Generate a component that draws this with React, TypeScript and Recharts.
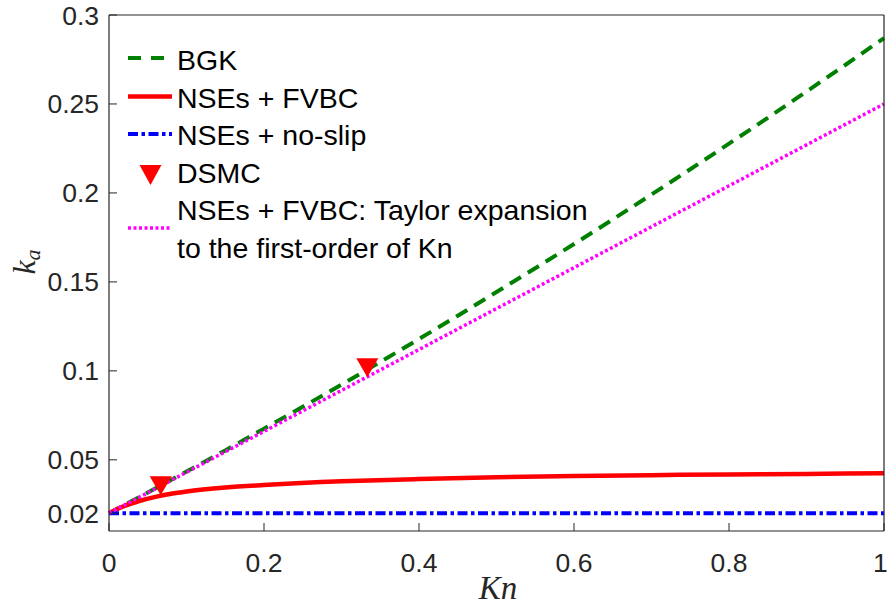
import React from "react";
import {
  ComposedChart,
  Line,
  Scatter,
  XAxis,
  YAxis,
  Legend,
} from "recharts";

// Kn grid and k_a values
const knBgk = [0, 0.05, 0.1, 0.15, 0.2, 0.25, 0.3, 0.35, 0.4, 0.45, 0.5, 0.55, 0.6, 0.65, 0.7, 0.75, 0.8, 0.85, 0.9, 0.95, 1];
const kaBgk = [0.02, 0.0316, 0.0434, 0.0553, 0.0675, 0.0798, 0.0923, 0.105, 0.1179, 0.131, 0.1443, 0.1577, 0.1713, 0.1851, 0.1991, 0.2133, 0.2277, 0.2422, 0.257, 0.2719, 0.287];

const knFvbc = [0, 0.01, 0.02, 0.04, 0.06, 0.08, 0.1, 0.15, 0.2, 0.3, 0.4, 0.5, 0.6, 0.7, 0.8, 0.9, 1];
const kaFvbc = [0.02, 0.0222, 0.0241, 0.027, 0.0292, 0.0309, 0.0322, 0.0344, 0.0358, 0.0379, 0.0392, 0.0402, 0.0409, 0.0414, 0.0418, 0.0421, 0.0424];

const knNoSlip = [0, 0.5, 1];
const kaNoSlip = [0.02, 0.02, 0.02];

const knDsmc = [0.0667, 0.3333];
const kaDsmc = [0.0354, 0.1017];

const knTaylor = [0, 0.1, 0.2, 0.3, 0.4, 0.5, 0.6, 0.7, 0.8, 0.9, 1];
const kaTaylor = [0.02, 0.043, 0.066, 0.089, 0.112, 0.135, 0.158, 0.181, 0.204, 0.227, 0.25];

const xTicks = [0, 0.2, 0.4, 0.6, 0.8, 1];
const yTicks = [0.02, 0.05, 0.1, 0.15, 0.2, 0.25, 0.3];

const toRows = (kn: number[], ka: number[]) => kn.map((x, i) => ({ kn: x, v: ka[i] }));

const bgkData = toRows(knBgk, kaBgk);
const fvbcData = toRows(knFvbc, kaFvbc);
const noSlipData = toRows(knNoSlip, kaNoSlip);
const dsmcData = toRows(knDsmc, kaDsmc);
const taylorData = toRows(knTaylor, kaTaylor);

const axisColor = "#262626";
const tickFont = { fill: axisColor, fontSize: 26.5, fontFamily: "Liberation Sans, Arial, sans-serif" };

const GREEN = "#008000";
const RED = "#ff0000";
const BLUE = "#0000ff";
const MAGENTA = "#ff00ff";

const TRI_W = 22;
const TRI_H = 19;

function TriangleDown(props: any) {
  const { cx, cy } = props;
  if (cx == null || cy == null) return null;
  const pts = `${cx - TRI_W / 2},${cy - TRI_H / 2} ${cx + TRI_W / 2},${cy - TRI_H / 2} ${cx},${cy + TRI_H / 2}`;
  return <polygon points={pts} fill={RED} />;
}

function LegendBox() {
  const font = { fontFamily: "Liberation Sans, Arial, sans-serif", fontSize: 28.5, fill: "#000" };
  const x0 = 128;
  const x1 = 172;
  const tx = 177;
  return (
    <svg width={887} height={280} style={{ display: "block" }}>
      <line x1={x0} x2={x1} y1={58} y2={58} stroke={GREEN} strokeWidth={4} strokeDasharray="13 10" />
      <text x={tx} y={70} {...font}>BGK</text>

      <line x1={x0} x2={x1} y1={96.5} y2={96.5} stroke={RED} strokeWidth={4.5} />
      <text x={tx} y={107.5} {...font}>NSEs + FVBC</text>

      <line x1={x0} x2={x1} y1={134} y2={134} stroke={BLUE} strokeWidth={4} strokeDasharray="10 3.5 3.5 3.5" />
      <text x={tx} y={145} {...font}>NSEs + no-slip</text>

      <polygon points={`${150.5 - 11},165 ${150.5 + 11},165 150.5,185`} fill={RED} />
      <text x={tx} y={182.5} {...font}>DSMC</text>

      <line x1={x0} x2={x1} y1={228} y2={228} stroke={MAGENTA} strokeWidth={3.5} strokeDasharray="3 2.5" />
      <text x={tx} y={220} {...font}>NSEs + FVBC: Taylor expansion</text>
      <text x={tx} y={257.5} {...font}>to the first-order of Kn</text>
    </svg>
  );
}

function YLabel() {
  return (
    <text
      x={35}
      y={262}
      transform="rotate(-90, 35, 262)"
      textAnchor="middle"
      fontFamily="Liberation Serif, Times New Roman, serif"
      fontSize={32}
      fill={axisColor}
    >
      <tspan fontStyle="italic">k</tspan>
      <tspan fontStyle="italic" fontSize={22} dy={5}>a</tspan>
    </text>
  );
}

function XLabel() {
  return (
    <text
      x={498}
      y={599}
      textAnchor="middle"
      fontFamily="Liberation Serif, Times New Roman, serif"
      fontStyle="italic"
      fontSize={33}
      fill={axisColor}
    >
      Kn
    </text>
  );
}

export default function App() {
  return (
    <div style={{ position: "absolute", left: 0, top: 0, background: "#fff" }}>
      <ComposedChart width={887} height={608} margin={{ top: 0, right: 0, bottom: 0, left: 0 }}>
        <XAxis
          xAxisId={0}
          dataKey="kn"
          type="number"
          domain={[0, 1]}
          ticks={xTicks}
          height={77}
          tickSize={-8}
          tickMargin={30}
          tick={tickFont}
          stroke={axisColor}
          axisLine={{ stroke: axisColor, strokeWidth: 1.2 }}
          tickLine={{ stroke: axisColor }}
          label={{ content: () => <XLabel /> }}
        />
        <XAxis
          xAxisId="top"
          orientation="top"
          type="number"
          domain={[0, 1]}
          ticks={xTicks}
          height={15}
          tickSize={-8}
          tick={false}
          axisLine={{ stroke: axisColor, strokeWidth: 1.2 }}
          tickLine={{ stroke: axisColor }}
        />
        <YAxis
          yAxisId={0}
          type="number"
          domain={[0.01, 0.3]}
          ticks={yTicks}
          allowDataOverflow
          width={109}
          tickSize={-8}
          tickMargin={18}
          tick={tickFont}
          stroke={axisColor}
          axisLine={{ stroke: axisColor, strokeWidth: 1.2 }}
          tickLine={{ stroke: axisColor }}
          label={{ content: () => <YLabel /> }}
        />
        <YAxis
          yAxisId="right"
          orientation="right"
          type="number"
          domain={[0.01, 0.3]}
          ticks={yTicks}
          allowDataOverflow
          width={3}
          tickSize={-8}
          tick={false}
          axisLine={{ stroke: axisColor, strokeWidth: 1.2 }}
          tickLine={{ stroke: axisColor }}
        />
        <Legend
          layout="vertical"
          align="center"
          verticalAlign="middle"
          content={() => <LegendBox />}
          wrapperStyle={{ position: "absolute", left: 0, top: 0, width: 887, height: 280 }}
        />
        <Line
          data={bgkData}
          dataKey="v"
          type="monotone"
          stroke={GREEN}
          strokeWidth={4}
          strokeDasharray="13 8"
          dot={false}
          isAnimationActive={false}
        />
        <Line
          data={fvbcData}
          dataKey="v"
          type="monotone"
          stroke={RED}
          strokeWidth={4.5}
          dot={false}
          isAnimationActive={false}
        />
        <Line
          data={noSlipData}
          dataKey="v"
          type="linear"
          stroke={BLUE}
          strokeWidth={4}
          strokeDasharray="10 3.5 3.5 3.5"
          dot={false}
          isAnimationActive={false}
        />
        <Scatter data={dsmcData} dataKey="v" shape={TriangleDown} isAnimationActive={false} />
        <Line
          data={taylorData}
          dataKey="v"
          type="linear"
          stroke={MAGENTA}
          strokeWidth={3.5}
          strokeDasharray="3 2.5"
          dot={false}
          isAnimationActive={false}
        />
      </ComposedChart>
    </div>
  );
}
